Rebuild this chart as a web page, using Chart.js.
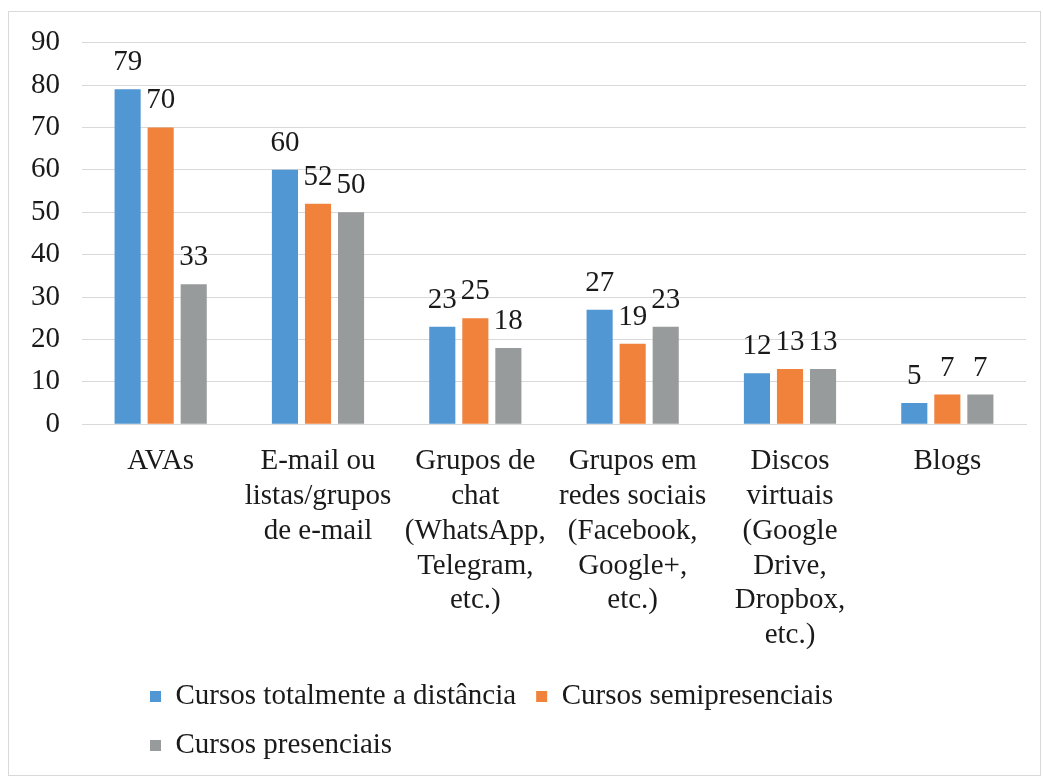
<!DOCTYPE html>
<html>
<head>
<meta charset="utf-8">
<script src="https://cdn.jsdelivr.net/npm/chart.js@4"></script>
<style>
  body { margin: 0; background: #fff; }
  #frame {
    position: absolute;
    left: 8px;
    top: 11px;
    width: 1031px;
    height: 763px;
    border: 1px solid #d9d9d9;
  }
</style>
</head>
<body>
<div id="frame"><canvas id="toolsChart"></canvas></div>
<script>
// Categories (multi-line, as in the original)
const categories = [
  ["AVAs"],
  ["E-mail ou", "listas/grupos", "de e-mail"],
  ["Grupos de", "chat", "(WhatsApp,", "Telegram,", "etc.)"],
  ["Grupos em", "redes sociais", "(Facebook,", "Google+,", "etc.)"],
  ["Discos", "virtuais", "(Google", "Drive,", "Dropbox,", "etc.)"],
  ["Blogs"],
];

const seriesNames = [
  "Cursos totalmente a distância",
  "Cursos semipresenciais",
  "Cursos presenciais",
];

const distancia = [79, 60, 23, 27, 12, 5];
const semipresenciais = [70, 52, 25, 19, 13, 7];
const presenciais = [33, 50, 18, 23, 13, 7];

const seriesColors = ["#5097D3", "#F0823C", "#989B9B"];

const FONT = '"Liberation Serif", "Times New Roman", serif';
const TEXT = "#1a1a1a";

// value labels above each bar
const barValues = {
  id: "barValues",
  afterDatasetsDraw(chart) {
    const ctx = chart.ctx;
    ctx.save();
    ctx.font = "29px " + FONT;
    ctx.fillStyle = TEXT;
    ctx.textAlign = "center";
    ctx.textBaseline = "alphabetic";
    chart.data.datasets.forEach((ds, i) => {
      const meta = chart.getDatasetMeta(i);
      meta.data.forEach((bar, j) => {
        ctx.fillText(String(ds.data[j]), bar.x, bar.y - 19);
      });
    });
    ctx.restore();
  },
};

// Excel-style legend: left aligned, wrapped onto a second row
const legendShift = {
  id: "legendShift",
  afterLayout(chart) {
    const lg = chart.legend;
    if (!lg) return;
    lg.left = 121;
    lg.right = 900;
    lg.top -= 11;
    lg.bottom = chart.height;
  },
};

const ctx = document.getElementById("toolsChart").getContext("2d");

new Chart(ctx, {
  type: "bar",
  data: {
    labels: categories,
    datasets: [
      { label: seriesNames[0], data: distancia, backgroundColor: seriesColors[0] },
      { label: seriesNames[1], data: semipresenciais, backgroundColor: seriesColors[1] },
      { label: seriesNames[2], data: presenciais, backgroundColor: seriesColors[2] },
    ],
  },
  options: {
    responsive: true,
    maintainAspectRatio: false,
    animation: false,
    datasets: {
      bar: { categoryPercentage: 0.63, barPercentage: 0.79 },
    },
    layout: {
      padding: { left: 0, right: 14, top: 12, bottom: 43 },
    },
    scales: {
      x: {
        grid: { display: false, drawTicks: false },
        border: { display: true, color: "#d9d9d9", width: 1 },
        ticks: {
          color: TEXT,
          font: { family: FONT, size: 29, lineHeight: 1.2 },
          padding: 20,
          maxRotation: 0,
          autoSkip: false,
        },
      },
      y: {
        min: 0,
        max: 90,
        grid: { color: "#d9d9d9", drawTicks: false },
        border: { display: false },
        ticks: {
          stepSize: 10,
          color: TEXT,
          font: { family: FONT, size: 29, lineHeight: 0.6 },
          padding: 22,
        },
      },
    },
    plugins: {
      legend: {
        position: "bottom",
        align: "start",
        labels: {
          color: TEXT,
          font: { family: FONT, size: 29 },
          boxWidth: 11,
          boxHeight: 11,
          padding: 20,
        },
      },
      tooltip: { enabled: false },
    },
  },
  plugins: [barValues, legendShift],
});
</script>
</body>
</html>
